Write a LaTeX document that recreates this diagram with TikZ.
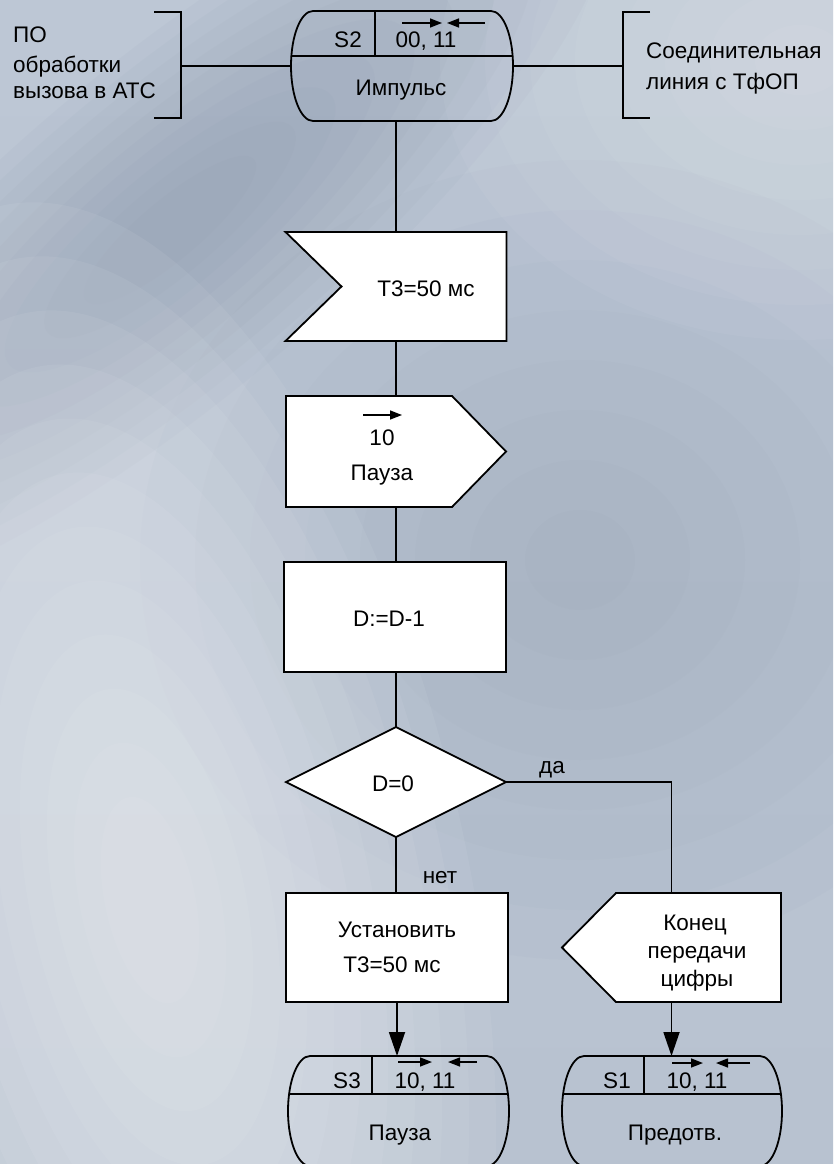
\documentclass[tikz,border=0pt]{standalone}
\usepackage{fontspec}
\setmainfont{Liberation Sans}
\usetikzlibrary{arrows.meta,calc}
\definecolor{bgtop}{HTML}{BDC7D5}
\definecolor{bgbot}{HTML}{B8C2D0}
\definecolor{bgdark}{HTML}{7D8AA0}
\definecolor{bglight}{HTML}{F4F6F9}
\begin{document}
\begin{tikzpicture}[x=1pt,y=-1pt,
  line/.style={line width=1.8pt, draw=black},
  blk/.style={line, fill=white},
  frame/.style={inner sep=0pt, outer sep=0pt, draw=none},
  lbl/.style={font=\fontsize{22.5}{28}\selectfont, inner sep=0pt, text=black, anchor=base},
  lblw/.style={lbl, anchor=base west},
  flow/.style={line, -{Triangle[length=24pt,width=16pt]}},
  vec/.style={line width=1.5pt, -{Triangle[length=12pt,width=9pt]}}]
\useasboundingbox (0,0) rectangle (833,1164);

% textured backdrop: stacked translucent ellipses give soft patches
\begin{scope}
\clip (0,0) rectangle (833,1164);
\shade[top color=bgtop, bottom color=bgbot] (0,0) rectangle (833,1164);
\foreach \k in {1,...,10}
  \fill[bgdark, opacity=.05] (170,230) ellipse[x radius={(60+\k*50)*1pt}, y radius={(15+\k*15)*1pt}, rotate=40];
\foreach \k in {1,...,8}
  \fill[bgdark, opacity=.035] (580,560) ellipse[x radius={\k*55pt}, y radius={\k*50pt}];
\foreach \k in {1,...,12}
  \fill[bglight, opacity=.07] (150,900) ellipse[x radius={(20+\k*25)*1pt}, y radius={(50+\k*55)*1pt}, rotate=12];
\foreach \k in {1,...,8}
  \fill[bglight, opacity=.05] (800,60) ellipse[x radius={\k*45pt}, y radius={\k*35pt}];
\end{scope}

% frames of the blocks
\node[frame, minimum width=222pt, minimum height=110pt] (s2) at (402,66) {};
\node[frame, minimum width=27pt, minimum height=106pt] (lbr) at (167.5,65) {};
\node[frame, minimum width=27pt, minimum height=106pt] (rbr) at (636.5,65) {};
\node[frame, minimum width=221pt, minimum height=109pt] (tmr) at (396,286.5) {};
\node[frame, minimum width=220pt, minimum height=111pt] (out) at (396,451.5) {};
\node[frame, minimum width=222pt, minimum height=110pt] (dec) at (395,617) {};
\node[frame, minimum width=220pt, minimum height=110pt] (cond) at (396,782) {};
\node[frame, minimum width=222pt, minimum height=109pt] (set) at (397,947.5) {};
\node[frame, minimum width=219pt, minimum height=109pt] (endsig) at (671.5,947.5) {};
\node[frame, minimum width=221pt, minimum height=110pt] (s3) at (398.5,1111) {};
\node[frame, minimum width=220pt, minimum height=110pt] (s1) at (672,1111) {};

% connectors
\draw[line] (lbr.north west) -- (lbr.north east) -- (lbr.south east) -- (lbr.south west);
\draw[line] (rbr.north east) -- (rbr.north west) -- (rbr.south west) -- (rbr.south east);
\draw[line] (s2.west) -- (s2.west -| lbr.east);
\draw[line] (s2.east) -- (s2.east -| rbr.west);
\draw[line] (s2.south -| tmr.north) -- (tmr.north);
\draw[line] (tmr.south) -- (tmr.south |- out.north);
\draw[line] (out.south) -- (out.south |- dec.north);
\draw[line] (dec.south -| cond.north) -- (cond.north);
\draw[line] (cond.south) -- (cond.south |- set.north);
\draw[line] (cond.east) -| (endsig.north);
\draw[flow] (set.south) -- (set.south |- s3.north);
\draw[flow] (endsig.south) -- (endsig.south |- s1.north);

% state S2
\draw[line] ([xshift=22pt]s2.north west) -- ([xshift=-22pt]s2.north east)
  arc[start angle=90, end angle=-90, x radius=22pt, y radius=55pt]
  -- ([xshift=22pt]s2.south west)
  arc[start angle=270, end angle=90, x radius=22pt, y radius=55pt] -- cycle;
\draw[line] (291.5,56) -- (512.5,56);
\draw[line] (375,11) -- (375,56);
\draw[vec] (402,23) -- (442,23);
\draw[vec] (485,23) -- (447,23);
\node[lbl] (s2n) at (348,48) {S2};
\node[lbl] (s2c) at (426,48) {00, 11};
\node[lbl] (s2t) at (401,95) {Импульс};

% timer input
\draw[blk] (tmr.north west) -- (tmr.north east) -- (tmr.south east) -- (tmr.south west)
  -- ([xshift=56pt]tmr.west) -- cycle;
\node[lbl] (tmrt) at (426,296) {Т3=50 мс};

% output signal
\draw[blk] (out.north west) -- ([xshift=-54pt]out.north east) -- (out.east)
  -- ([xshift=-54pt]out.south east) -- (out.south west) -- cycle;
\draw[vec] (363,415) -- (402,415);
\node[lbl] (outc) at (382,445) {10};
\node[lbl] (outt) at (382,480) {Пауза};

% task
\draw[blk] (dec.north west) rectangle (dec.south east);
\node[lbl] (dect) at (389,626) {D:=D-1};

% decision
\draw[blk] (cond.north) -- (cond.east) -- (cond.south) -- (cond.west) -- cycle;
\node[lbl] (condt) at (393,791) {D=0};
\node[lbl] (yes) at (552,773) {да};
\node[lbl] (no) at (440,883) {нет};

% set timer
\draw[blk] (set.north west) rectangle (set.south east);
\node[lbl] (set1) at (397,937) {Установить};
\node[lbl] (set2) at (392,972) {Т3=50 мс};

% internal signal
\draw[blk] (endsig.west) -- ([xshift=54pt]endsig.north west) -- (endsig.north east)
  -- (endsig.south east) -- ([xshift=54pt]endsig.south west) -- cycle;
\node[lbl] (e1) at (695,930) {Конец};
\node[lbl] (e2) at (697,958) {передачи};
\node[lbl] (e3) at (697,986) {цифры};

% state S3
\draw[line] ([xshift=22pt]s3.north west) -- ([xshift=-22pt]s3.north east)
  arc[start angle=90, end angle=-90, x radius=22pt, y radius=55pt]
  -- ([xshift=22pt]s3.south west)
  arc[start angle=270, end angle=90, x radius=22pt, y radius=55pt] -- cycle;
\draw[line] (289,1094) -- (508,1094);
\draw[line] (372,1056) -- (372,1094);
\draw[vec] (398,1062) -- (432,1062);
\draw[vec] (477,1062) -- (448,1062);
\node[lbl] (s3n) at (347,1088) {S3};
\node[lbl] (s3c) at (425,1088) {10, 11};
\node[lbl] (s3t) at (400,1140) {Пауза};

% state S1
\draw[line] ([xshift=22pt]s1.north west) -- ([xshift=-22pt]s1.north east)
  arc[start angle=90, end angle=-90, x radius=22pt, y radius=55pt]
  -- ([xshift=22pt]s1.south west)
  arc[start angle=270, end angle=90, x radius=22pt, y radius=55pt] -- cycle;
\draw[line] (563,1094) -- (781,1094);
\draw[line] (644,1056) -- (644,1094);
\draw[vec] (672,1063) -- (703,1063);
\draw[vec] (750,1063) -- (716,1063);
\node[lbl] (s1n) at (617,1088) {S1};
\node[lbl] (s1c) at (697,1088) {10, 11};
\node[lbl] (s1t) at (675,1140) {Предотв.};

% environment labels
\node[lblw] (po1) at (13,43) {ПО};
\node[lblw] (po2) at (13,72) {обработки};
\node[lblw] (po3) at (13,99) {вызова в АТС};
\node[lblw] (ln1) at (646,59) {Соединительная};
\node[lblw] (ln2) at (646,89) {линия с ТфОП};
\end{tikzpicture}
\end{document}
